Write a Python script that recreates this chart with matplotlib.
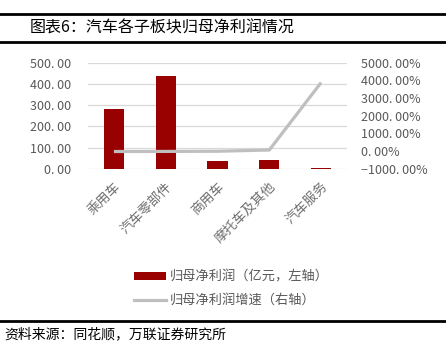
import numpy as np
import matplotlib.pyplot as plt
from matplotlib.lines import Line2D
from matplotlib.patches import Patch
from matplotlib.ticker import FuncFormatter

plt.rcParams["font.family"] = ["Noto Sans CJK SC", "DejaVu Sans"]

# --------------------------------------------------------------
# Data
# --------------------------------------------------------------
categories = ["乘用车", "汽车零部件", "商用车", "摩托车及其他", "汽车服务"]
profit = [283, 435, 39, 42, 6]            # 亿元
growth = [-15, -10, 0, 70, 3870]          # %

bar_color = "#990000"
line_color = "#BFBFBF"
text_color = "#595959"

fig = plt.figure(figsize=(4.46, 3.52), dpi=100)
ax = fig.add_axes([88 / 446, 1 - 169 / 352, 259 / 446, 106.5 / 352])
ax2 = ax.twinx()

x = np.arange(len(categories))
ax.bar(x, profit, width=0.39, color=bar_color, zorder=2)
ax2.plot(x, growth, color=line_color, lw=2.3, solid_capstyle="butt", zorder=3)

ax.set_xlim(-0.5, len(categories) - 0.5)
ax.set_ylim(0, 500)
ax.set_yticks(np.arange(0, 501, 100))
ax2.set_ylim(-1000, 5000)
ax2.set_yticks(np.arange(-1000, 5001, 1000))

ax.yaxis.set_major_formatter(FuncFormatter(lambda v, p: f"{v:.2f}".replace(".", ". ")))
ax2.yaxis.set_major_formatter(FuncFormatter(lambda v, p: f"{v:.2f}%".replace(".", ". ").replace("-", "−")))

ax.grid(axis="y", color="#D9D9D9", lw=0.9, zorder=0)
ax.set_axisbelow(True)
for a in (ax, ax2):
    for s in a.spines.values():
        s.set_visible(False)
    a.tick_params(length=0, colors=text_color, labelsize=9)
ax.tick_params(axis="y", pad=12)
ax2.tick_params(axis="y", pad=10)

ax.set_xticks(x)
ax.set_xticklabels(categories, rotation=45, ha="right", rotation_mode="anchor",
                   fontsize=9.5, color="#6E6E6E")
ax.tick_params(axis="x", pad=8)

# legend
handles = [Patch(facecolor=bar_color), Line2D([], [], color=line_color, lw=2.3)]
labels = ["归母净利润（亿元，左轴）", "归母净利润增速（右轴）"]
fig.legend(handles, labels, loc="upper left", bbox_to_anchor=(122 / 446, 1 - 259 / 352),
           frameon=False, fontsize=9.5, handlelength=2.4, handleheight=0.55,
           labelspacing=0.75, handletextpad=0.3, labelcolor=text_color)

# title and frame lines
fig.add_artist(Line2D([0, 1], [1 - 14 / 352] * 2, color="black", lw=2))
fig.add_artist(Line2D([0, 1], [1 - 42 / 352] * 2, color="black", lw=2))
fig.add_artist(Line2D([0, 1], [1 - 320.5 / 352] * 2, color="black", lw=2))
fig.text(30 / 446, 1 - 28 / 352, "图表6：汽车各子板块归母净利润情况", fontsize=11.5,
         va="center", ha="left", color="black")
fig.text(4 / 446, 1 - 334 / 352, "资料来源：同花顺，万联证券研究所", fontsize=10,
         va="center", ha="left", color="black", style="italic")

fig.savefig("out.png", dpi=100)
